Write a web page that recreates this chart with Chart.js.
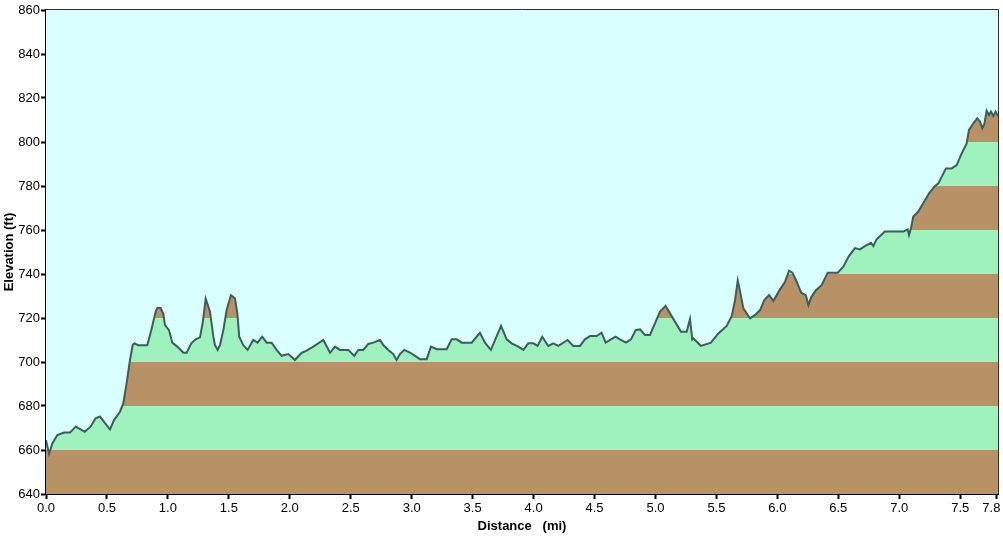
<!DOCTYPE html>
<html>
<head>
<meta charset="utf-8">
<title>Elevation profile</title>
<script src="https://cdn.jsdelivr.net/npm/chart.js@4.4.1/dist/chart.umd.min.js"></script>
<style>
  html, body { margin: 0; padding: 0; background: #ffffff; }
  #wrap { width: 1003px; height: 536px; }
</style>
</head>
<body>
<div id="wrap"><canvas id="myChart" width="1003" height="536"></canvas></div>
<script>
// distance (mi) and elevation (ft)
const distances = [
    0.000, 0.025, 0.052, 0.093, 0.148, 0.197, 0.243, 0.284, 0.317, 0.366,
    0.407, 0.443, 0.484, 0.525, 0.558, 0.607, 0.634, 0.661, 0.689, 0.711,
    0.727, 0.755, 0.831, 0.864, 0.900, 0.913, 0.941, 0.963, 0.976, 1.009,
    1.036, 1.077, 1.127, 1.154, 1.192, 1.228, 1.263, 1.285, 1.310, 1.345,
    1.373, 1.386, 1.408, 1.427, 1.455, 1.482, 1.517, 1.550, 1.570, 1.585,
    1.618, 1.654, 1.700, 1.735, 1.774, 1.810, 1.851, 1.892, 1.933, 1.988,
    2.042, 2.097, 2.138, 2.193, 2.275, 2.330, 2.371, 2.412, 2.480, 2.529,
    2.562, 2.603, 2.644, 2.685, 2.740, 2.767, 2.808, 2.849, 2.876, 2.904,
    2.940, 2.986, 3.027, 3.068, 3.123, 3.158, 3.205, 3.287, 3.328, 3.369,
    3.410, 3.492, 3.560, 3.601, 3.650, 3.733, 3.779, 3.820, 3.875, 3.916,
    3.957, 3.998, 4.033, 4.071, 4.120, 4.162, 4.203, 4.279, 4.326, 4.381,
    4.421, 4.463, 4.517, 4.558, 4.591, 4.635, 4.673, 4.709, 4.758, 4.799,
    4.838, 4.873, 4.914, 4.955, 4.996, 5.037, 5.083, 5.119, 5.160, 5.209,
    5.256, 5.283, 5.302, 5.310, 5.357, 5.373, 5.455, 5.516, 5.584, 5.626,
    5.653, 5.675, 5.694, 5.721, 5.776, 5.817, 5.858, 5.893, 5.932, 5.967,
    6.022, 6.063, 6.096, 6.123, 6.159, 6.195, 6.233, 6.255, 6.277, 6.315,
    6.364, 6.413, 6.495, 6.541, 6.583, 6.636, 6.677, 6.718, 6.768, 6.787,
    6.814, 6.882, 7.033, 7.069, 7.080, 7.096, 7.115, 7.156, 7.197, 7.244,
    7.288, 7.321, 7.383, 7.430, 7.471, 7.512, 7.553, 7.572, 7.608, 7.640,
    7.662, 7.681, 7.698, 7.717, 7.736, 7.752, 7.771, 7.791, 7.810
];
const elevations = [
    664.5, 658.2, 663.0, 666.8, 667.9, 667.9, 670.6, 669.4, 668.3, 670.6,
    674.4, 675.2, 672.2, 669.4, 673.6, 677.4, 681.2, 690.3, 700.9, 707.7,
    708.5, 707.6, 707.6, 714.5, 722.9, 724.5, 724.5, 721.8, 716.8, 714.5,
    708.8, 707.0, 704.2, 704.2, 708.5, 710.3, 711.2, 717.6, 728.8, 723.0,
    711.5, 707.7, 705.5, 707.7, 714.5, 723.6, 730.4, 729.0, 722.1, 711.5,
    707.7, 705.5, 710.0, 708.8, 711.5, 708.8, 708.8, 705.5, 702.8, 703.6,
    700.9, 704.2, 705.2, 707.0, 710.0, 704.2, 707.0, 705.5, 705.5, 702.8,
    705.5, 705.5, 708.2, 708.8, 710.0, 707.7, 705.5, 703.6, 700.9, 703.6,
    705.5, 704.3, 702.8, 701.3, 701.3, 707.0, 705.8, 705.8, 710.3, 710.3,
    708.8, 708.8, 713.3, 708.8, 705.5, 716.4, 710.3, 708.5, 707.0, 705.5,
    708.5, 708.5, 707.3, 711.5, 707.3, 708.5, 707.3, 710.0, 707.3, 707.3,
    710.3, 711.8, 711.8, 713.3, 708.8, 710.3, 711.5, 710.3, 708.8, 710.3,
    714.5, 714.8, 712.3, 712.3, 717.6, 722.9, 725.5, 722.1, 718.3, 713.8,
    713.8, 719.6, 710.3, 710.8, 708.2, 707.3, 708.8, 713.0, 716.4, 720.9,
    728.2, 737.0, 732.0, 724.4, 719.8, 721.4, 723.6, 728.2, 730.4, 727.8,
    733.0, 736.5, 741.5, 740.6, 736.5, 731.5, 730.4, 725.9, 729.4, 732.5,
    735.0, 740.6, 740.6, 743.3, 747.8, 751.8, 751.2, 752.7, 754.2, 752.7,
    755.8, 759.3, 759.3, 760.3, 757.7, 760.8, 766.1, 768.4, 772.2, 776.7,
    779.7, 781.2, 788.0, 788.0, 789.5, 794.8, 799.4, 805.5, 808.5, 810.8,
    809.3, 806.3, 808.2, 814.2, 812.3, 813.8, 811.8, 813.8, 811.8
];
const xTicks = [0, 0.5, 1, 1.5, 2, 2.5, 3, 3.5, 4, 4.5, 5, 5.5, 6, 6.5, 7, 7.5, 7.8];
const yTicks = [640, 660, 680, 700, 720, 740, 760, 780, 800, 820, 840, 860];

const SKY = '#d9ffff';
const BROWN = '#b89267';
const GREEN = '#9ff2be';
const LINE = '#3e5c5a';
const TICK_FONT = {family: "'Liberation Sans Narrow', 'Liberation Sans', sans-serif", size: 13};

// striped fill: hard colour stops every 20 ft, worked out from the y scale
function bandFill(context) {
    const chart = context.chart;
    const area = chart.chartArea;
    if (!area) return GREEN;
    const y = chart.scales.y;
    const top = y.getPixelForValue(yTicks[yTicks.length - 1]);
    const bottom = y.getPixelForValue(yTicks[0]);
    const grad = chart.ctx.createLinearGradient(0, bottom, 0, top);
    for (let i = 0; i < yTicks.length - 1; i++) {
        const c = i % 2 === 0 ? BROWN : GREEN;
        const a = (y.getPixelForValue(yTicks[i]) - bottom) / (top - bottom);
        const b = (y.getPixelForValue(yTicks[i + 1]) - bottom) / (top - bottom);
        grad.addColorStop(Math.min(1, Math.max(0, a)), c);
        grad.addColorStop(Math.min(1, Math.max(0, b)), c);
    }
    return grad;
}

const frame = {
    id: 'frame',
    beforeDatasetsDraw(chart) {
        const {ctx, chartArea: a} = chart;
        ctx.save();
        ctx.fillStyle = SKY;
        ctx.fillRect(a.left, a.top, a.right - a.left, a.bottom - a.top);
        ctx.restore();
    },
    afterDraw(chart) {
        const {ctx, chartArea: a} = chart;
        ctx.save();
        ctx.strokeStyle = '#333333';
        ctx.lineWidth = 1;
        ctx.beginPath();
        ctx.moveTo(a.left, a.top - 0.5);
        ctx.lineTo(a.right + 0.5, a.top - 0.5);
        ctx.lineTo(a.right + 0.5, a.bottom);
        ctx.stroke();
        ctx.restore();
    }
};

const ctx = document.getElementById('myChart').getContext('2d');
const myChart = new Chart(ctx, {
    type: 'line',
    data: {
        datasets: [
            {
                label: 'Elevation',
                data: distances.map((d, i) => ({x: d, y: elevations[i]})),
                borderColor: LINE,
                borderWidth: 2,
                backgroundColor: bandFill,
                fill: 'origin',
                pointRadius: 0,
                tension: 0
            }
        ]
    },
    plugins: [frame],
    options: {
        responsive: false,
        animation: false,
        layout: {
            padding: {top: 10, right: 5, left: 0, bottom: 0}
        },
        plugins: {
            legend: {display: false},
            tooltip: {enabled: false}
        },
        scales: {
            x: {
                type: 'linear',
                min: 0,
                max: 7.81,
                afterBuildTicks: (scale) => {
                    scale.ticks = xTicks.map(v => ({value: v}));
                },
                afterFit: (scale) => {
                    scale.height = 42;
                    scale.paddingLeft = 0;
                    scale.paddingRight = 0;
                },
                grid: {
                    drawOnChartArea: false,
                    drawTicks: true,
                    tickLength: 5,
                    tickColor: '#000000',
                    tickWidth: 2
                },
                border: {display: true, color: '#000000', width: 2},
                ticks: {
                    color: '#000000',
                    padding: 2,
                    maxRotation: 0,
                    autoSkip: false,
                    font: TICK_FONT,
                    // last label sits a little left of its tick, as in the original
                    callback: (v, i) => Number(v).toFixed(1) + (i === xTicks.length - 1 ? '   ' : '')
                },
                title: {
                    display: true,
                    text: 'Distance   (mi)',
                    color: '#000000',
                    padding: {top: 0, bottom: 2},
                    font: {family: 'Liberation Sans', size: 13, weight: 'bold'}
                }
            },
            y: {
                type: 'linear',
                min: 640,
                max: 860,
                afterBuildTicks: (scale) => {
                    scale.ticks = yTicks.map(v => ({value: v}));
                },
                afterFit: (scale) => {
                    scale.width = 46;
                    scale.paddingTop = 0;
                    scale.paddingBottom = 0;
                },
                grid: {
                    drawOnChartArea: false,
                    drawTicks: true,
                    tickLength: 5,
                    tickColor: '#000000',
                    tickWidth: 2
                },
                border: {display: true, color: '#000000', width: 2},
                ticks: {
                    color: '#000000',
                    padding: 1,
                    autoSkip: false,
                    font: TICK_FONT
                },
                title: {
                    display: true,
                    text: 'Elevation (ft)',
                    color: '#000000',
                    padding: {top: 2, bottom: 0},
                    font: {family: 'Liberation Sans', size: 13, weight: 'bold'}
                }
            }
        }
    }
});
</script>
</body>
</html>
